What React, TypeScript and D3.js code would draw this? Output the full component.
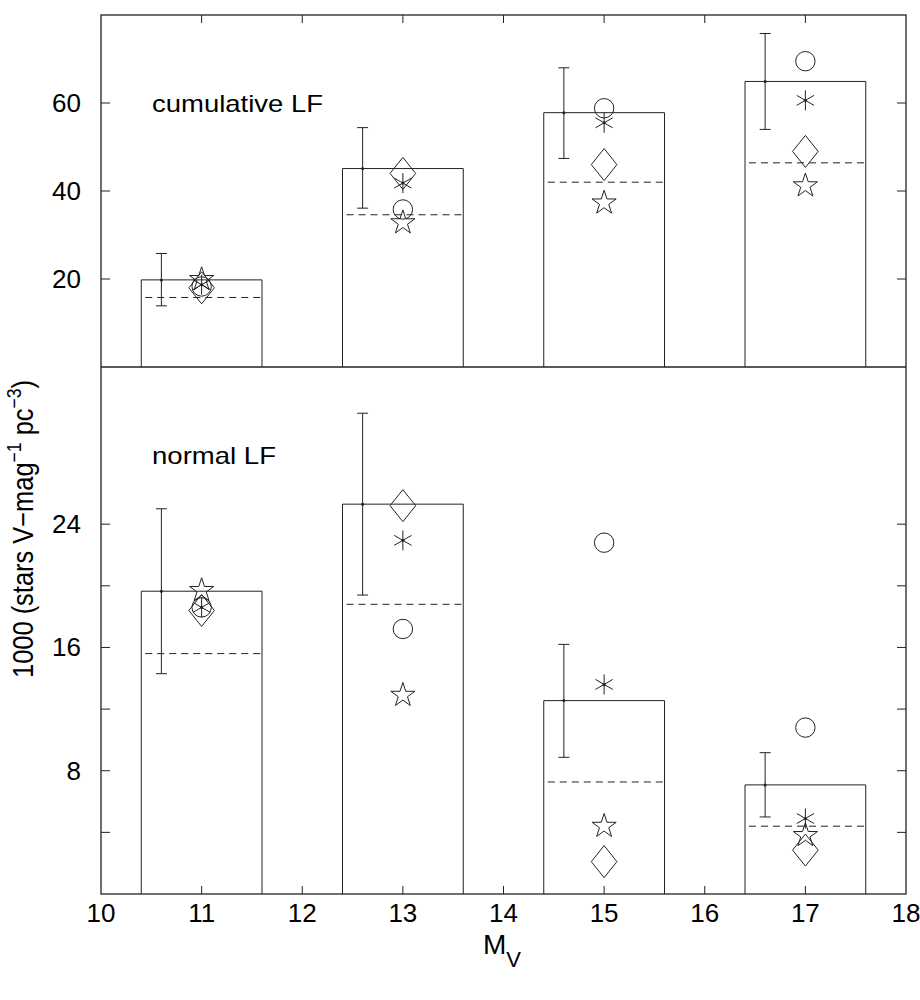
import React from "react";
import * as d3 from "d3";

// ---- data ----
const MV = [11, 13, 15, 17];

// cumulative LF (top panel)
const cumBar = [19.8, 45.1, 57.8, 64.9];
const cumDashed = [15.8, 34.6, 42.0, 46.4];
const cumErrLo = [13.9, 36.1, 47.4, 54.0];
const cumErrHi = [25.8, 54.4, 68.0, 75.8];
const cumCircle = [18.3, 35.8, 58.8, 69.5];
const cumAsterisk = [18.7, 41.8, 55.5, 60.6];
const cumDiamond = [18.0, 44.0, 46.0, 49.0];
const cumStar = [19.9, 32.8, 37.3, 41.2];

// normal LF (bottom panel)
const normBar = [19.65, 25.3, 12.55, 7.08];
const normDashed = [15.6, 18.8, 7.27, 4.4];
const normErrLo = [14.3, 19.4, 8.87, 5.0];
const normErrHi = [25.0, 31.2, 16.2, 9.17];
const normCircle = [18.6, 17.2, 22.8, 10.8];
const normAsterisk = [18.6, 22.95, 13.6, 4.9];
const normDiamond = [18.4, 25.2, 2.1, 2.85];
const normStar = [19.7, 12.9, 4.4, 3.8];

const xTicks = [11, 12, 13, 14, 15, 16, 17];
const xTickLabels = [10, 11, 12, 13, 14, 15, 16, 17, 18];
const topTicks = [20, 40, 60];
const topTickLabels = [20, 40, 60];
const botTicks = [4, 8, 12, 16, 20, 24];
const botTickLabels = [8, 16, 24];

// ---- layout ----
const L = 101, R = 906, T = 15, MID = 367, B = 894;
const x = d3.scaleLinear().domain([10, 18]).range([L, R]);
const yTop = d3.scaleLinear().domain([0, 80]).range([MID, T]);
const yBot = d3.scaleLinear().domain([0, 34.2]).range([B, MID]);

const STROKE = "#222";
const FONT = "'Liberation Sans', Arial, Helvetica, sans-serif";

const circlePath = d3.symbol(d3.symbolCircle, Math.PI * 9.7 * 9.7)();
const starPath = d3.symbol(d3.symbolStar, 181)();
const diamondPath = (() => {
  const p = d3.path();
  p.moveTo(0, -16);
  p.lineTo(12.8, 0);
  p.lineTo(0, 16);
  p.lineTo(-12.8, 0);
  p.closePath();
  return p.toString();
})();
const asteriskPath = (() => {
  const p = d3.path();
  const r = 10;
  for (let k = 0; k < 3; k++) {
    const a = Math.PI / 2 + (k * Math.PI) / 3;
    p.moveTo(r * Math.cos(a), r * Math.sin(a));
    p.lineTo(-r * Math.cos(a), -r * Math.sin(a));
  }
  return p.toString();
})();

type PanelProps = {
  y: d3.ScaleLinear<number, number>;
  bar: number[];
  dashed: number[];
  lo: number[];
  hi: number[];
  circle: number[];
  asterisk: number[];
  diamond: number[];
  star: number[];
};

function Panel({ y, bar, dashed, lo, hi, circle, asterisk, diamond, star }: PanelProps) {
  const base = y(0);
  return (
    <g>
      {MV.map((m, i) => {
        const x0 = x(m - 0.6);
        const x1 = x(m + 0.6);
        const xe = x(m - 0.4);
        const xs = x(m);
        return (
          <g key={m}>
            <path
              d={`M${x0},${base}V${y(bar[i])}H${x1}V${base}`}
              fill="none"
              stroke={STROKE}
              strokeWidth={1}
            />
            <line
              x1={x0}
              x2={x1}
              y1={y(dashed[i])}
              y2={y(dashed[i])}
              stroke={STROKE}
              strokeWidth={1}
              strokeDasharray="7,5"
              strokeDashoffset={-4}
            />
            <line x1={xe} x2={xe} y1={y(lo[i])} y2={y(hi[i])} stroke={STROKE} strokeWidth={1} />
            <line x1={xe - 5.5} x2={xe + 5.5} y1={y(lo[i])} y2={y(lo[i])} stroke={STROKE} strokeWidth={1} />
            <line x1={xe - 5.5} x2={xe + 5.5} y1={y(hi[i])} y2={y(hi[i])} stroke={STROKE} strokeWidth={1} />
            <circle cx={xe} cy={y(bar[i])} r={1.5} fill={STROKE} />
            <path d={circlePath} transform={`translate(${xs},${y(circle[i])})`} fill="none" stroke={STROKE} strokeWidth={1} />
            <path d={asteriskPath} transform={`translate(${xs},${y(asterisk[i])})`} fill="none" stroke={STROKE} strokeWidth={1} />
            <circle cx={xs} cy={y(asterisk[i])} r={1.5} fill={STROKE} />
            <path d={diamondPath} transform={`translate(${xs},${y(diamond[i])})`} fill="none" stroke={STROKE} strokeWidth={1} />
            <path d={starPath} transform={`translate(${xs},${y(star[i])})`} fill="none" stroke={STROKE} strokeWidth={1} />
          </g>
        );
      })}
    </g>
  );
}

export default function App() {
  return (
    <svg
      width={920}
      height={1000}
      style={{ position: "absolute", left: 0, top: 0, background: "#fff" }}
      fontFamily={FONT}
    >
      <rect x={0} y={0} width={920} height={1000} fill="#fff" />
      {/* frame */}
      <rect x={L} y={T} width={R - L} height={B - T} fill="none" stroke={STROKE} strokeWidth={1.3} />
      <line x1={L} x2={R} y1={MID} y2={MID} stroke={STROKE} strokeWidth={1.3} />

      {/* x ticks top and bottom */}
      {xTicks.map((t) => (
        <g key={"xt" + t}>
          <line x1={x(t)} x2={x(t)} y1={B} y2={B - 8} stroke={STROKE} strokeWidth={1} />
          <line x1={x(t)} x2={x(t)} y1={T} y2={T + 8} stroke={STROKE} strokeWidth={1} />
        </g>
      ))}
      {xTickLabels.map((t) => (
        <text key={"xl" + t} x={x(t)} y={922} fontSize={26} textAnchor="middle" fill="#000">
          {t}
        </text>
      ))}

      {/* y ticks top panel */}
      {topTicks.map((t) => (
        <g key={"yt" + t}>
          <line x1={L} x2={L + 9} y1={yTop(t)} y2={yTop(t)} stroke={STROKE} strokeWidth={1} />
          <line x1={R} x2={R - 9} y1={yTop(t)} y2={yTop(t)} stroke={STROKE} strokeWidth={1} />
        </g>
      ))}
      {topTickLabels.map((t) => (
        <text key={"ytl" + t} x={81} y={yTop(t) + 9} fontSize={26} textAnchor="end" fill="#000">
          {t}
        </text>
      ))}
      {/* y ticks bottom panel */}
      {botTicks.map((t) => (
        <g key={"yb" + t}>
          <line x1={L} x2={L + 9} y1={yBot(t)} y2={yBot(t)} stroke={STROKE} strokeWidth={1} />
          <line x1={R} x2={R - 9} y1={yBot(t)} y2={yBot(t)} stroke={STROKE} strokeWidth={1} />
        </g>
      ))}
      {botTickLabels.map((t) => (
        <text key={"ybl" + t} x={81} y={yBot(t) + 9} fontSize={26} textAnchor="end" fill="#000">
          {t}
        </text>
      ))}

      <Panel
        y={yTop}
        bar={cumBar}
        dashed={cumDashed}
        lo={cumErrLo}
        hi={cumErrHi}
        circle={cumCircle}
        asterisk={cumAsterisk}
        diamond={cumDiamond}
        star={cumStar}
      />
      <Panel
        y={yBot}
        bar={normBar}
        dashed={normDashed}
        lo={normErrLo}
        hi={normErrHi}
        circle={normCircle}
        asterisk={normAsterisk}
        diamond={normDiamond}
        star={normStar}
      />

      {/* panel labels */}
      <text x={152} y={112} fontSize={24} textLength={171} lengthAdjust="spacingAndGlyphs" fill="#000">
        cumulative LF
      </text>
      <text x={152} y={464} fontSize={24} textLength={124} lengthAdjust="spacingAndGlyphs" fill="#000">
        normal LF
      </text>

      {/* axis labels */}
      <text x={483} y={954} fontSize={28} fill="#000">
        M
        <tspan fontSize={22} dy={13}>V</tspan>
      </text>
      <text
        transform="translate(33,529) rotate(-90)"
        textAnchor="middle"
        fontSize={29}
        textLength={298}
        lengthAdjust="spacingAndGlyphs"
        fill="#000"
      >
        1000 (stars V−mag
        <tspan fontSize={20} dy={-12}>−1</tspan>
        <tspan dy={12}> pc</tspan>
        <tspan fontSize={20} dy={-12}>−3</tspan>
        <tspan dy={12}>)</tspan>
      </text>
    </svg>
  );
}
